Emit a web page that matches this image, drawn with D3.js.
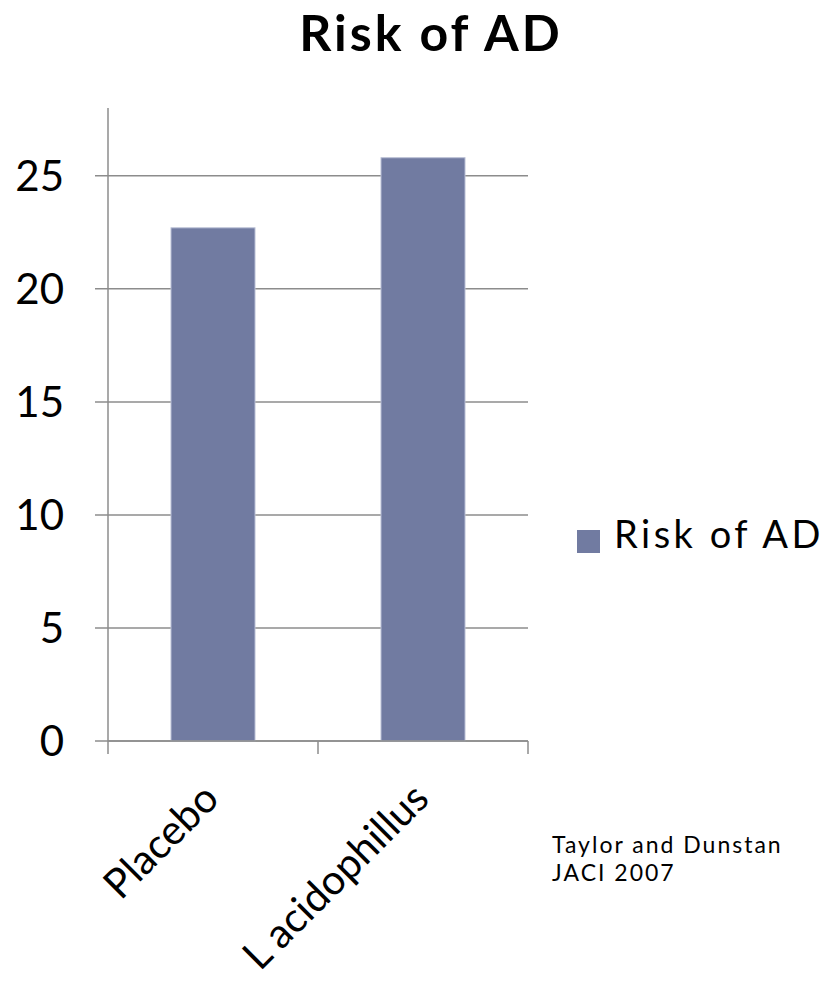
<!DOCTYPE html>
<html>
<head>
<meta charset="utf-8">
<script src="https://cdn.jsdelivr.net/npm/d3@7"></script>
<style>
  html, body { margin: 0; padding: 0; background: #fff; }
  svg { display: block; font-family: "Lato", "Open Sans", sans-serif; }
</style>
</head>
<body>
<svg id="chart" width="836" height="986"></svg>
<script>
// Chart data
const categories = ["Placebo", "L acidophillus"];
const riskValues = [22.7, 25.8];
const yTicks = [0, 5, 10, 15, 20, 25];
const seriesName = "Risk of AD";
const titleText = "Risk of AD";
const sourceLines = ["Taylor and Dunstan", "JACI 2007"];

const svg = d3.select("#chart");
const plot = { left: 108, right: 528, top: 108, bottom: 741 };

const x = d3.scaleBand().domain(categories).range([plot.left, plot.right]).padding(0);
const y = d3.scaleLinear().domain([0, 28]).range([plot.bottom, plot.top]);

const barColor = "#717ba1";
const gridColor = "#8c8c8c";

// Title
svg.append("text")
  .attr("x", 431).attr("y", 51)
  .attr("text-anchor", "middle")
  .attr("font-size", 50).attr("font-weight", 700)
  .attr("letter-spacing", 3)
  .attr("fill", "#000")
  .text(titleText);

// Horizontal gridlines with left tick stubs
svg.append("g").selectAll("line")
  .data(yTicks)
  .join("line")
  .attr("x1", plot.left - 13).attr("x2", plot.right)
  .attr("y1", d => y(d)).attr("y2", d => y(d))
  .attr("stroke", gridColor).attr("stroke-width", 1.5);

// Y axis labels
svg.append("g").selectAll("text")
  .data(yTicks)
  .join("text")
  .attr("x", 64).attr("y", d => y(d))
  .attr("dy", "0.36em")
  .attr("text-anchor", "end")
  .attr("font-size", 42).attr("fill", "#000")
  .text(d => d);

// Y axis line
svg.append("line")
  .attr("x1", plot.left).attr("x2", plot.left)
  .attr("y1", plot.top).attr("y2", plot.bottom)
  .attr("stroke", gridColor).attr("stroke-width", 1.5);

// Bars
const barW = x.bandwidth() * 0.4;
svg.append("g").selectAll("rect")
  .data(categories)
  .join("rect")
  .attr("x", d => x(d) + (x.bandwidth() - barW) / 2)
  .attr("width", barW)
  .attr("y", (d, i) => y(riskValues[i]))
  .attr("height", (d, i) => y(0) - y(riskValues[i]))
  .attr("fill", barColor)
  .attr("stroke", "#b9bfd5").attr("stroke-width", 1);

// X axis baseline and category tick marks
const xBoundaries = [plot.left, ...categories.map(c => x(c) + x.bandwidth())];
svg.append("line")
  .attr("x1", plot.left).attr("x2", plot.right)
  .attr("y1", plot.bottom).attr("y2", plot.bottom)
  .attr("stroke", gridColor).attr("stroke-width", 1.5);
svg.append("g").selectAll("line")
  .data(xBoundaries)
  .join("line")
  .attr("x1", d => d).attr("x2", d => d)
  .attr("y1", plot.bottom).attr("y2", plot.bottom + 13)
  .attr("stroke", gridColor).attr("stroke-width", 1.5);

// Rotated category labels
svg.append("g").selectAll("text")
  .data(categories)
  .join("text")
  .attr("transform", d => `translate(${x(d) + x.bandwidth() / 2 + 8},${plot.bottom + 60}) rotate(-45)`)
  .attr("text-anchor", "end")
  .attr("font-size", 41).attr("fill", "#000")
  .text(d => d);

// Legend
const legend = svg.append("g").attr("transform", "translate(577,530)");
legend.append("rect").attr("width", 23).attr("height", 23).attr("fill", barColor);
legend.append("text")
  .attr("x", 37).attr("y", 18)
  .attr("font-size", 38).attr("letter-spacing", 3.5).attr("fill", "#000")
  .text(seriesName);

// Source note
svg.append("g").selectAll("text")
  .data(sourceLines)
  .join("text")
  .attr("x", 552).attr("y", (d, i) => 853 + i * 28)
  .attr("font-size", 23).attr("letter-spacing", 2).attr("fill", "#000")
  .text(d => d);
</script>
</body>
</html>
